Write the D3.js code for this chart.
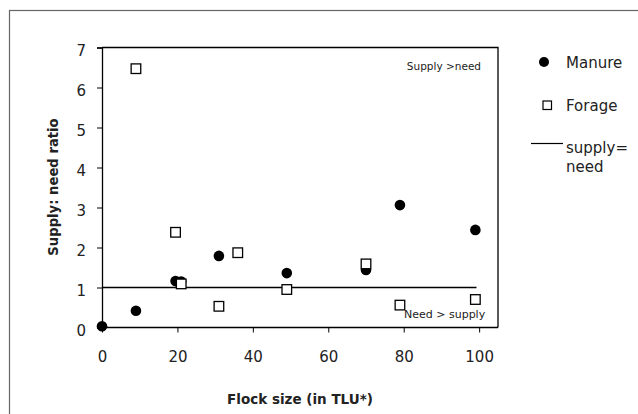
<!DOCTYPE html>
<html>
<head>
<meta charset="utf-8">
<script src="https://cdn.jsdelivr.net/npm/d3@7"></script>
<style>
  html, body { margin: 0; padding: 0; background: #fff; }
  svg { display: block; }
  text { font-family: "DejaVu Sans", sans-serif; fill: #222; }
</style>
</head>
<body>
<svg id="chart" width="638" height="414"></svg>
<script>
// Data
const manureX = [0, 9, 19.5, 21, 31, 49, 70, 79, 99];
const manureY = [0.03, 0.42, 1.16, 1.15, 1.79, 1.36, 1.44, 3.06, 2.44];
const forageX = [9, 19.5, 21, 31, 36, 49, 70, 79, 99];
const forageY = [6.47, 2.38, 1.09, 0.53, 1.87, 0.95, 1.59, 0.56, 0.70];
const refLineX = [0, 99.3];
const refLineY = [1, 1];
const xTicks = [0, 20, 40, 60, 80, 100];
const yTicks = [0, 1, 2, 3, 4, 5, 6, 7];
const legendLabels = ["Manure", "Forage", ["supply=", "need"]];

const svg = d3.select("#chart");

// outer frame
svg.append("rect")
  .attr("x", 9.5).attr("y", 10.5).attr("width", 700).attr("height", 500)
  .attr("fill", "none").attr("stroke", "#666").attr("stroke-width", 1.2);

const pLeft = 102, pRight = 498, pTop = 47.5, pBottom = 327.5;
const x = d3.scaleLinear().domain([0, 105]).range([pLeft, pRight]);
const y = d3.scaleLinear().domain([0, 7]).range([pBottom, pTop]);

// plot border (top & right)
svg.append("path")
  .attr("d", `M${pLeft},${pTop}H${pRight}V${pBottom}`)
  .attr("fill", "none").attr("stroke", "#000").attr("stroke-width", 1.3);

// y axis
const yAxis = svg.append("g").attr("transform", `translate(${pLeft},0)`)
  .call(d3.axisLeft(y).tickValues(yTicks).tickSize(5).tickPadding(11).tickFormat(d3.format("d")));
yAxis.select(".domain").attr("stroke", "#000").attr("stroke-width", 1.3);
yAxis.selectAll(".tick line").attr("stroke", "#000").attr("stroke-width", 1);
yAxis.selectAll(".tick text").attr("font-size", 15).attr("dy", "0.55em")
  .style("font-family", "DejaVu Sans").attr("fill", "#222");

// x axis
const xAxis = svg.append("g").attr("transform", `translate(0,${pBottom})`)
  .call(d3.axisBottom(x).tickValues(xTicks).tickSize(5).tickPadding(19).tickFormat(d3.format("d")));
xAxis.select(".domain").attr("stroke", "#000").attr("stroke-width", 1.3)
  .attr("d", `M${pLeft},0H${pRight}`);
xAxis.selectAll(".tick line").attr("stroke", "#000").attr("stroke-width", 1);
xAxis.selectAll(".tick text").attr("font-size", 15)
  .style("font-family", "DejaVu Sans").attr("fill", "#222");

// reference line supply = need
const line = d3.line().x(d => x(d[0])).y(d => y(d[1]));
svg.append("path")
  .datum(refLineX.map((v, i) => [v, refLineY[i]]))
  .attr("d", line).attr("fill", "none").attr("stroke", "#000").attr("stroke-width", 1.4);

// annotation texts
svg.append("text").attr("x", 481).attr("y", 70).attr("text-anchor", "end")
  .attr("font-size", 10.5).text("Supply >need");
svg.append("text").attr("x", 404).attr("y", 318)
  .attr("font-size", 11).text("Need > supply");

// manure points
svg.append("g").selectAll("circle")
  .data(manureX.map((v, i) => [v, manureY[i]]))
  .join("circle")
  .attr("cx", d => x(d[0])).attr("cy", d => y(d[1])).attr("r", 5.3)
  .attr("fill", "#000");

// forage points
const sq = 9.6;
svg.append("g").selectAll("rect")
  .data(forageX.map((v, i) => [v, forageY[i]]))
  .join("rect")
  .attr("x", d => x(d[0]) - sq / 2).attr("y", d => y(d[1]) - sq / 2)
  .attr("width", sq).attr("height", sq)
  .attr("fill", "#fff").attr("stroke", "#000").attr("stroke-width", 1.3);

// axis titles
svg.append("text").attr("x", 300).attr("y", 404).attr("text-anchor", "middle")
  .attr("font-size", 13.5).attr("font-weight", "bold").attr("fill", "#111")
  .text("Flock size (in TLU*)");
svg.append("text").attr("transform", "translate(58,187) rotate(-90)")
  .attr("text-anchor", "middle")
  .attr("font-size", 13.2).attr("font-weight", "bold").attr("fill", "#111")
  .text("Supply: need ratio");

// legend
const lg = svg.append("g");
lg.append("circle").attr("cx", 544).attr("cy", 62).attr("r", 5).attr("fill", "#000");
lg.append("text").attr("x", 566).attr("y", 68).attr("font-size", 15).text(legendLabels[0]);
lg.append("rect").attr("x", 543).attr("y", 101).attr("width", 8.5).attr("height", 8.5)
  .attr("fill", "#fff").attr("stroke", "#000").attr("stroke-width", 1.2);
lg.append("text").attr("x", 566).attr("y", 111).attr("font-size", 15).text(legendLabels[1]);
lg.append("line").attr("x1", 531).attr("x2", 563).attr("y1", 143.5).attr("y2", 143.5)
  .attr("stroke", "#000").attr("stroke-width", 1.2);
const lt = lg.append("text").attr("x", 566).attr("y", 153).attr("font-size", 15);
lt.append("tspan").attr("x", 566).text(legendLabels[2][0]);
lt.append("tspan").attr("x", 566).attr("dy", 19).text(legendLabels[2][1]);
</script>
</body>
</html>
